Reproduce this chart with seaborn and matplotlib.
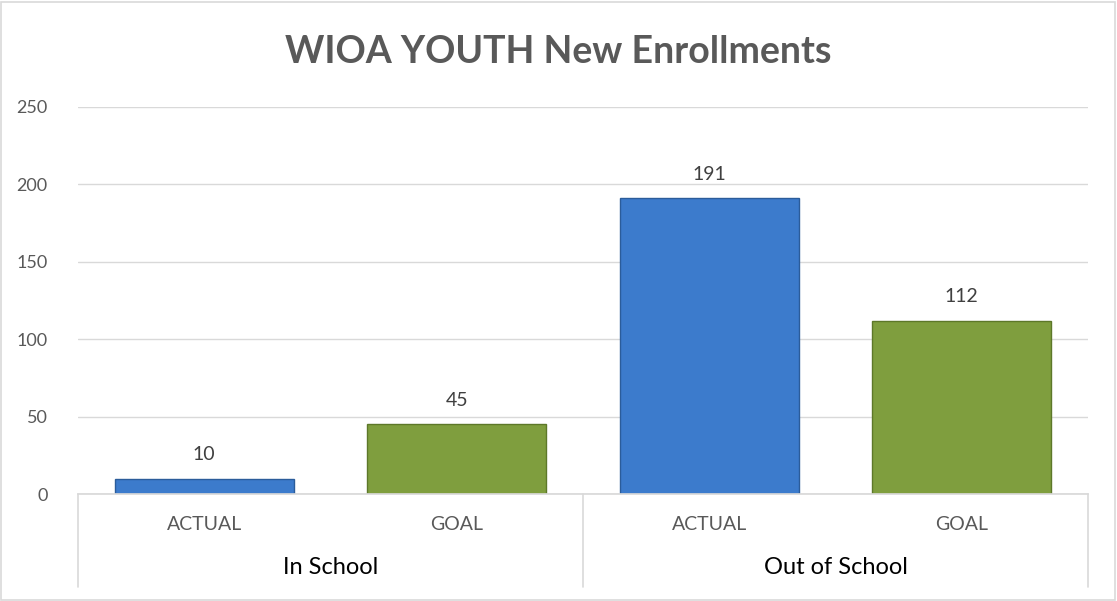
import matplotlib
matplotlib.use("Agg")
from matplotlib import pyplot as plt
from matplotlib.patches import Rectangle
import matplotlib.transforms as mtransforms
import pandas as pd
import seaborn as sns

# values
groups = ["In School", "In School", "Out of School", "Out of School"]
kinds = ["ACTUAL", "GOAL", "ACTUAL", "GOAL"]
enrollments = [10, 45, 191, 112]
y_ticks = [0, 50, 100, 150, 200, 250]

BLUE = "#3c7bcc"
GREEN = "#7f9e3e"
GREY = "#595959"
LINE = "#d9d9d9"

sns.set_theme(style="white")
plt.rcParams["font.family"] = ["Lato", "DejaVu Sans"]

df = pd.DataFrame({"group": groups, "kind": kinds, "value": enrollments})
df["slot"] = [f"{g}|{k}" for g, k in zip(groups, kinds)]

fig = plt.figure(figsize=(11.17, 6.01), dpi=100)
ax = fig.add_axes([0.0698, 0.178, 0.9042, 0.644])

ax = sns.barplot(
    data=df,
    x="slot",
    y="value",
    hue="kind",
    palette={"ACTUAL": BLUE, "GOAL": GREEN},
    saturation=1,
    dodge=False,
    width=0.71,
    edgecolor="none",
    legend=False,
    ax=ax,
)

# darker outline per bar to hint at the bevel look
edge = {"ACTUAL": "#2b5c9a", "GOAL": "#5d7829"}
for container, k in zip(ax.containers, ["ACTUAL", "GOAL"]):
    for bar in container:
        bar.set_edgecolor(edge[k])
        bar.set_linewidth(1.0)
    ax.bar_label(container, fmt="%d", padding=11, fontsize=14, color="#404040")

ax.set_ylim(0, 250)
ax.set_xlim(-0.5, len(df) - 0.5)
ax.set_yticks(y_ticks)
ax.set_yticklabels([str(t) for t in y_ticks], fontsize=13, color=GREY)
ax.yaxis.grid(True, color=LINE, linewidth=1)
ax.set_axisbelow(True)
for s in ["top", "right", "left"]:
    ax.spines[s].set_visible(False)
ax.spines["bottom"].set_color(LINE)
ax.tick_params(axis="y", length=0, pad=22)
ax.tick_params(axis="x", length=0, pad=16)
ax.set_xticks(range(len(df)))
ax.set_xticklabels(kinds, fontsize=14, color=GREY)
ax.set_xlabel("")
ax.set_ylabel("")

# second level of the category axis
trans = mtransforms.blended_transform_factory(ax.transData, ax.transAxes)
for i, g in enumerate(dict.fromkeys(groups)):
    ax.text(2 * i + 0.5, -0.19, g, transform=trans, ha="center", va="center",
            fontsize=17, color="black")
for xb in [-0.5, 1.5, 3.5]:
    ax.plot([xb, xb], [0, -0.24], transform=trans, color=LINE, lw=1.2,
            clip_on=False)

fig.text(0.5, 0.913, "WIOA YOUTH New Enrollments", ha="center", va="center",
         fontsize=27, fontweight="bold", color=GREY)

# chart border
fig.patches.append(Rectangle((0.001, 0.002), 0.997, 0.995, transform=fig.transFigure,
                             fill=False, edgecolor=LINE, lw=1.2))

fig.savefig("out.png", dpi=100)
